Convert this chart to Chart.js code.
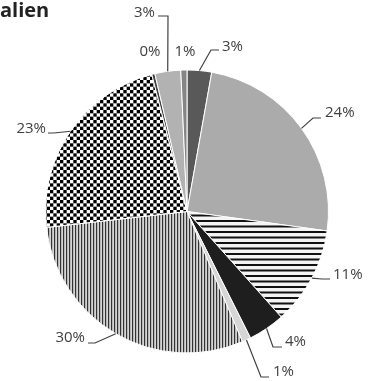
<!DOCTYPE html>
<html>
<head>
<meta charset="utf-8">
<script src="https://cdn.jsdelivr.net/npm/chart.js@4/dist/chart.umd.min.js"></script>
<style>
  html, body { margin: 0; padding: 0; background: #fff; }
  canvas { display: block; }
</style>
</head>
<body>
<canvas id="pie" width="372" height="381"></canvas>
<script>
// values, clockwise from 12 o'clock
var categories = ['S1', 'S2', 'S3', 'S4', 'S5', 'S6', 'S7', 'S8', 'S9', 'S10'];
var shares = [2.8, 24.4, 11.2, 4.2, 1.0, 29.6, 22.8, 0.35, 2.95, 0.7];
var titleText = 'alien';

// pattern helpers
function makeTile(w, h, draw) {
    var c = document.createElement('canvas');
    c.width = w;
    c.height = h;
    var g = c.getContext('2d');
    draw(g);
    return document.createElement('canvas').getContext('2d').createPattern(c, 'repeat');
}

var hStripes = makeTile(1, 11, function (g) {
    g.fillStyle = '#f4f4f4';
    g.fillRect(0, 0, 1, 11);
    g.fillStyle = '#111';
    g.fillRect(0, 0, 1, 2);
    g.fillRect(0, 5.5, 1, 2);
});

var vStripes = makeTile(3, 1, function (g) {
    g.fillStyle = '#333';
    g.fillRect(0, 0, 1, 1);
    g.fillStyle = '#b8b8b8';
    g.fillRect(1, 0, 1, 1);
    g.fillStyle = '#d4d4d4';
    g.fillRect(2, 0, 1, 1);
});

var checker = makeTile(20, 20, function (g) {
    var s = 20 / 6;
    g.fillStyle = '#fff';
    g.fillRect(0, 0, 20, 20);
    g.fillStyle = '#000';
    for (var i = 0; i < 6; i++) {
        for (var j = 0; j < 6; j++) {
            if ((i + j) % 2 === 0) g.fillRect(i * s, j * s, s, s);
        }
    }
});

var fills = ['#595959', '#ababab', hStripes, '#1e1e1e', '#d6d6d6', vStripes, checker, '#404040', '#b2b2b2', '#858585'];

// where each label goes: leader line elbow + end, text spot
var labelLayout = [
    { pts: [[211, 50], [219, 50]], x: 222, y: 47, align: 'left' },
    { pts: [[313, 118], [321, 118]], x: 325, y: 113, align: 'left' },
    { pts: [[322, 279], [330, 279]], x: 333, y: 275, align: 'left' },
    { pts: [[273, 347], [282, 347]], x: 285, y: 342, align: 'left' },
    { pts: [[261, 377], [269, 377]], x: 273, y: 372, align: 'left' },
    { pts: [[95, 343], [88, 343]], x: 85, y: 338, align: 'right' },
    { pts: [[54, 133], [48, 133]], x: 46, y: 129, align: 'right' },
    { pts: null, x: 150, y: 52, align: 'center' },
    { pts: [[168, 16], [158, 16]], x: 155, y: 13, align: 'right' },
    { pts: null, x: 185, y: 52, align: 'center' }
];

var labelPlugin = {
    id: 'pieLabels',
    afterDraw: function (chart) {
        var ctx = chart.ctx;
        var arcs = chart.getDatasetMeta(0).data;
        ctx.save();
        ctx.strokeStyle = '#404040';
        ctx.lineWidth = 1.2;
        ctx.fillStyle = '#404040';
        ctx.font = '15px "Open Sans"';
        ctx.textBaseline = 'middle';
        arcs.forEach(function (arc, i) {
            var lay = labelLayout[i];
            var p = arc.getProps(['x', 'y', 'startAngle', 'endAngle', 'outerRadius'], true);
            var mid = (p.startAngle + p.endAngle) / 2;
            if (lay.pts) {
                ctx.beginPath();
                ctx.moveTo(p.x + Math.cos(mid) * p.outerRadius, p.y + Math.sin(mid) * p.outerRadius);
                lay.pts.forEach(function (q) { ctx.lineTo(q[0], q[1]); });
                ctx.stroke();
            }
            ctx.textAlign = lay.align;
            ctx.fillText(Math.round(shares[i]) + '%', lay.x, lay.y);
        });
        // title, cut off at the left like the source
        ctx.fillStyle = '#222';
        ctx.font = 'bold 20px "Open Sans"';
        ctx.textAlign = 'left';
        ctx.textBaseline = 'alphabetic';
        ctx.fillText(titleText, 0, 17);
        ctx.restore();
    }
};

var ctx = document.getElementById('pie').getContext('2d');
var pie = new Chart(ctx, {
    type: 'pie',
    data: {
        labels: categories,
        datasets: [{
            data: shares,
            backgroundColor: fills,
            borderColor: '#fff',
            borderWidth: 1
        }]
    },
    options: {
        responsive: false,
        animation: false,
        radius: 141.5,
        layout: { padding: { left: 45, right: 43, top: 70, bottom: 28 } },
        plugins: {
            legend: { display: false },
            tooltip: { enabled: false },
            title: { display: false }
        }
    },
    plugins: [labelPlugin]
});
</script>
</body>
</html>
